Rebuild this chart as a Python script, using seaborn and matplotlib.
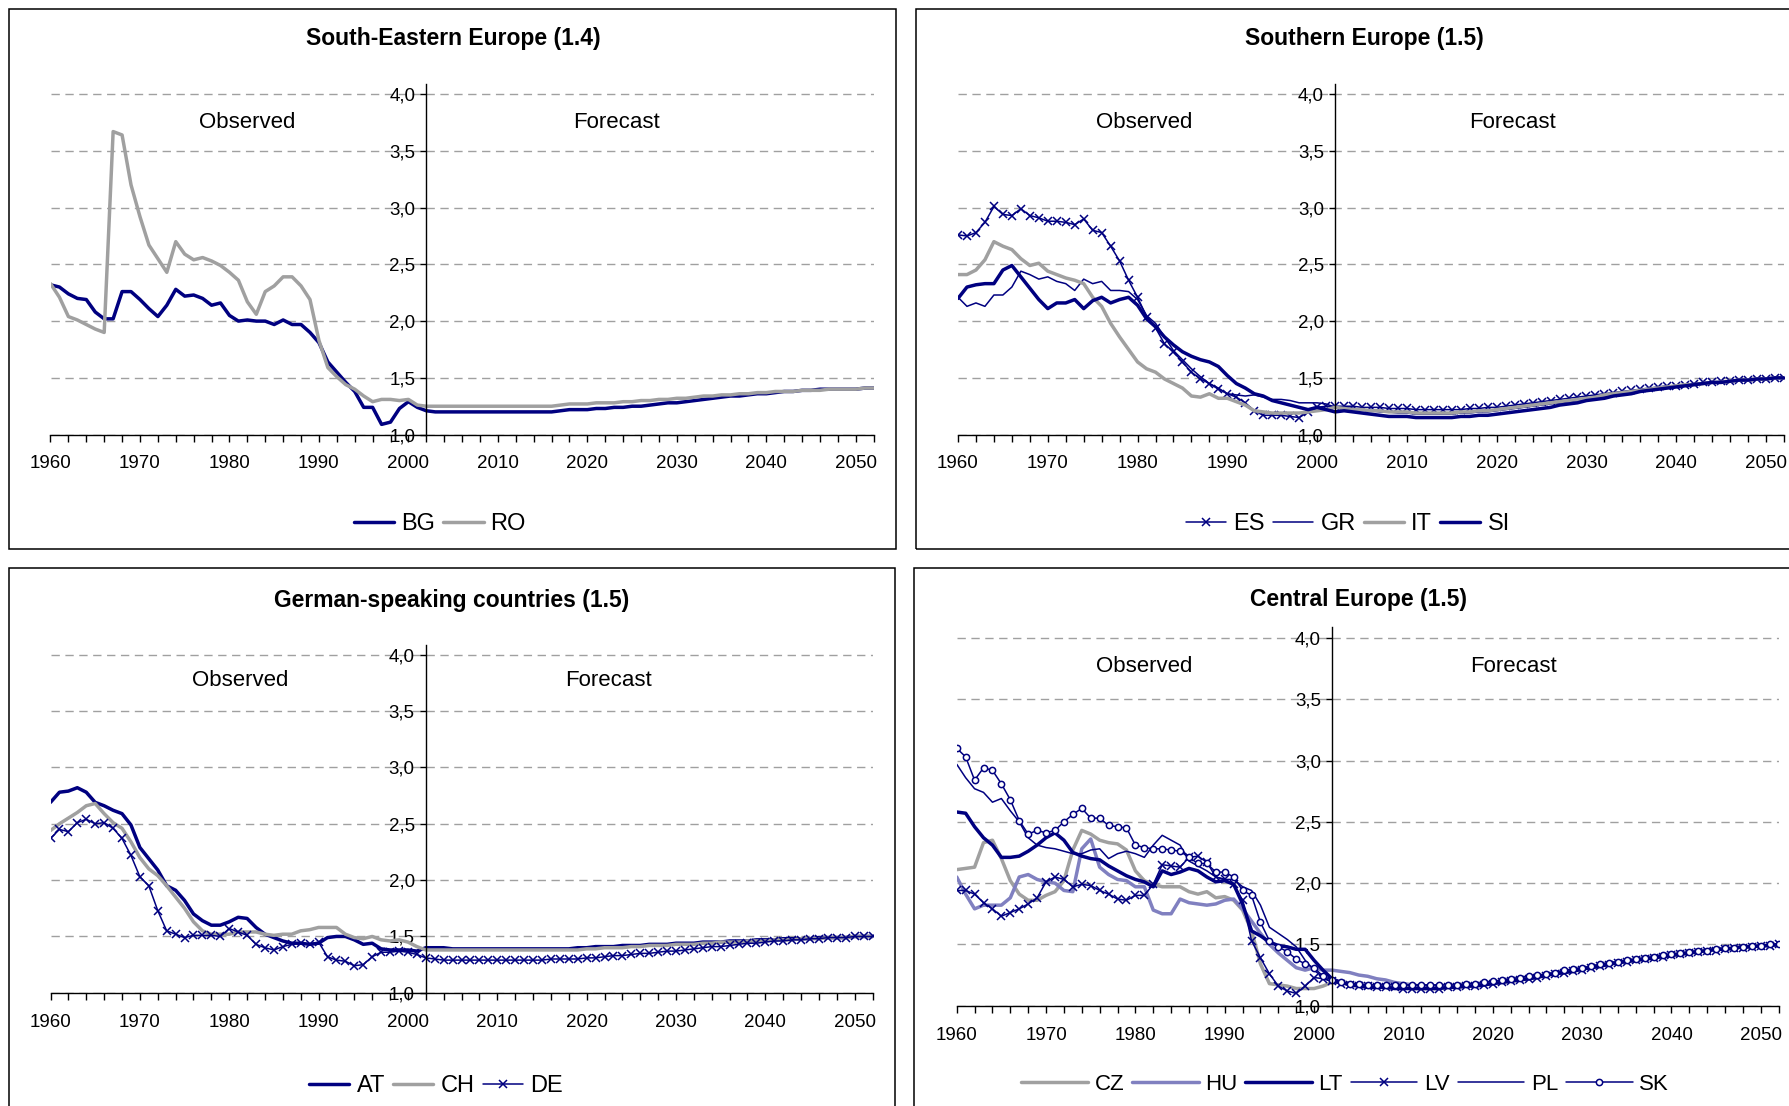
import matplotlib.pyplot as plt
import matplotlib.patches as mpatches
from matplotlib.ticker import MultipleLocator, FuncFormatter
import seaborn as sns

W, H = 1789, 1106

YEARS = list(range(1960, 2053))
OBS_END = 2002

# ---- South-Eastern Europe (1960-2002 observed, 2003-2052 forecast)
BG_OBS = [2.32, 2.30, 2.24, 2.20, 2.19, 2.08, 2.02, 2.02, 2.26, 2.26,
          2.19, 2.11, 2.04, 2.14, 2.28, 2.22, 2.23, 2.20, 2.14, 2.16,
          2.05, 2.00, 2.01, 2.00, 2.00, 1.97, 2.01, 1.97, 1.97, 1.90,
          1.81, 1.64, 1.55, 1.46, 1.38, 1.24, 1.24, 1.09, 1.11, 1.23,
          1.29, 1.24, 1.21]
BG_FC = [1.20, 1.20, 1.20, 1.20, 1.20, 1.20, 1.20, 1.20, 1.20, 1.20, 1.20, 1.20, 1.20, 1.20,
         1.21, 1.22, 1.22, 1.22, 1.23, 1.23, 1.24, 1.24, 1.25, 1.25,
         1.26, 1.27, 1.28, 1.28, 1.29, 1.30, 1.31, 1.32, 1.33, 1.34,
         1.34, 1.35, 1.36, 1.36, 1.37, 1.38, 1.38, 1.39, 1.39, 1.40,
         1.40, 1.40, 1.40, 1.40, 1.41, 1.41]
RO_OBS = [2.33, 2.21, 2.04, 2.01, 1.97, 1.93, 1.90, 3.67, 3.64, 3.20,
          2.92, 2.67, 2.55, 2.43, 2.70, 2.59, 2.54, 2.56, 2.53, 2.49,
          2.43, 2.36, 2.17, 2.06, 2.26, 2.31, 2.39, 2.39, 2.31, 2.19,
          1.83, 1.59, 1.51, 1.44, 1.40, 1.34, 1.29, 1.31, 1.31, 1.30,
          1.31, 1.26, 1.25]
RO_FC = [1.25, 1.25, 1.25, 1.25, 1.25, 1.25, 1.25, 1.25, 1.25, 1.25, 1.25, 1.25, 1.25, 1.25,
         1.26, 1.27, 1.27, 1.27, 1.28, 1.28, 1.28, 1.29, 1.29, 1.30,
         1.30, 1.31, 1.31, 1.32, 1.32, 1.33, 1.34, 1.34, 1.35, 1.35,
         1.36, 1.36, 1.37, 1.37, 1.38, 1.38, 1.38, 1.39, 1.39, 1.39,
         1.40, 1.40, 1.40, 1.40, 1.41, 1.41]

# ---- Southern Europe
ES_OBS = [2.76, 2.75, 2.78, 2.87, 3.01, 2.94, 2.93, 2.99, 2.93, 2.91,
          2.88, 2.88, 2.87, 2.85, 2.90, 2.80, 2.78, 2.66, 2.53, 2.36,
          2.21, 2.04, 1.94, 1.80, 1.73, 1.64, 1.55, 1.49, 1.45, 1.40,
          1.36, 1.33, 1.28, 1.21, 1.17, 1.17, 1.17, 1.16, 1.15, 1.20,
          1.24, 1.25, 1.25]
ES_FC = [1.25, 1.25, 1.24, 1.24, 1.24, 1.23, 1.23, 1.23, 1.22, 1.22,
         1.22, 1.22, 1.22, 1.22, 1.23, 1.23, 1.24, 1.24, 1.25, 1.26,
         1.27, 1.28, 1.29, 1.30, 1.31, 1.32, 1.33, 1.34, 1.35, 1.36,
         1.37, 1.38, 1.39, 1.40, 1.41, 1.42, 1.43, 1.43, 1.44, 1.45,
         1.46, 1.46, 1.47, 1.47, 1.48, 1.48, 1.49, 1.49, 1.50, 1.50]
GR_OBS = [2.21, 2.13, 2.16, 2.13, 2.23, 2.23, 2.30, 2.44, 2.41, 2.37,
          2.39, 2.35, 2.33, 2.27, 2.37, 2.33, 2.35, 2.27, 2.27, 2.26,
          2.19, 2.05, 1.98, 1.86, 1.74, 1.66, 1.58, 1.51, 1.45, 1.41,
          1.36, 1.35, 1.34, 1.35, 1.33, 1.31, 1.31, 1.30, 1.28, 1.28,
          1.28, 1.27, 1.24]
GR_FC = [1.24, 1.23, 1.22, 1.21, 1.20, 1.20, 1.19, 1.19, 1.18, 1.18,
         1.18, 1.18, 1.18, 1.19, 1.19, 1.20, 1.20, 1.21, 1.22, 1.23,
         1.24, 1.25, 1.26, 1.27, 1.28, 1.29, 1.30, 1.31, 1.33, 1.34,
         1.35, 1.36, 1.37, 1.39, 1.40, 1.41, 1.42, 1.43, 1.43, 1.44,
         1.45, 1.46, 1.46, 1.47, 1.48, 1.48, 1.49, 1.49, 1.50, 1.50]
IT_OBS = [2.41, 2.41, 2.45, 2.54, 2.70, 2.66, 2.63, 2.55, 2.49, 2.51,
          2.44, 2.41, 2.38, 2.36, 2.33, 2.21, 2.13, 1.98, 1.86, 1.75,
          1.64, 1.58, 1.55, 1.49, 1.45, 1.41, 1.34, 1.33, 1.36, 1.32,
          1.32, 1.29, 1.26, 1.21, 1.20, 1.19, 1.19, 1.19, 1.19, 1.20,
          1.21, 1.22, 1.24]
IT_FC = [1.23, 1.22, 1.22, 1.21, 1.21, 1.20, 1.20, 1.20, 1.19, 1.19,
         1.19, 1.19, 1.19, 1.20, 1.20, 1.21, 1.21, 1.22, 1.23, 1.24,
         1.25, 1.26, 1.27, 1.28, 1.29, 1.30, 1.31, 1.32, 1.33, 1.35,
         1.36, 1.37, 1.38, 1.39, 1.40, 1.41, 1.42, 1.43, 1.44, 1.44,
         1.45, 1.46, 1.46, 1.47, 1.48, 1.48, 1.49, 1.49, 1.50, 1.50]
SI_OBS = [2.20, 2.30, 2.32, 2.33, 2.33, 2.45, 2.49, 2.39, 2.29, 2.19,
          2.11, 2.16, 2.16, 2.19, 2.11, 2.18, 2.21, 2.16, 2.19, 2.21,
          2.14, 2.02, 1.95, 1.86, 1.79, 1.73, 1.69, 1.66, 1.64, 1.60,
          1.52, 1.45, 1.41, 1.36, 1.34, 1.30, 1.28, 1.26, 1.24, 1.22,
          1.24, 1.22, 1.20]
SI_FC = [1.21, 1.20, 1.19, 1.18, 1.17, 1.16, 1.16, 1.16, 1.15, 1.15,
         1.15, 1.15, 1.15, 1.16, 1.16, 1.17, 1.17, 1.18, 1.19, 1.20,
         1.21, 1.22, 1.23, 1.24, 1.26, 1.27, 1.28, 1.30, 1.31, 1.32,
         1.34, 1.35, 1.36, 1.38, 1.39, 1.40, 1.41, 1.42, 1.43, 1.44,
         1.45, 1.46, 1.46, 1.47, 1.48, 1.48, 1.49, 1.49, 1.50, 1.50]

# ---- German-speaking countries
AT_OBS = [2.69, 2.78, 2.79, 2.82, 2.78, 2.69, 2.66, 2.62, 2.59, 2.49,
          2.29, 2.19, 2.09, 1.95, 1.91, 1.82, 1.70, 1.64, 1.60, 1.60,
          1.63, 1.67, 1.66, 1.58, 1.52, 1.49, 1.46, 1.44, 1.44, 1.43,
          1.44, 1.49, 1.50, 1.50, 1.47, 1.43, 1.44, 1.39, 1.38, 1.38,
          1.38, 1.37, 1.40]
AT_FC = [1.40, 1.40, 1.39, 1.39, 1.39, 1.39, 1.39, 1.39, 1.39, 1.39,
         1.39, 1.39, 1.39, 1.39, 1.39, 1.39, 1.40, 1.40, 1.41, 1.41,
         1.41, 1.42, 1.42, 1.42, 1.43, 1.43, 1.43, 1.44, 1.44, 1.44,
         1.45, 1.45, 1.45, 1.46, 1.46, 1.46, 1.47, 1.47, 1.47, 1.48,
         1.48, 1.48, 1.48, 1.49, 1.49, 1.49, 1.49, 1.50, 1.50, 1.50]
CH_OBS = [2.44, 2.50, 2.55, 2.60, 2.66, 2.68, 2.59, 2.51, 2.46, 2.34,
          2.20, 2.10, 2.04, 1.95, 1.85, 1.75, 1.63, 1.55, 1.52, 1.52,
          1.52, 1.54, 1.54, 1.54, 1.52, 1.51, 1.52, 1.52, 1.55, 1.56,
          1.58, 1.58, 1.58, 1.52, 1.49, 1.48, 1.50, 1.47, 1.46, 1.47,
          1.45, 1.41, 1.38]
CH_FC = [1.38, 1.38, 1.38, 1.38, 1.38, 1.38, 1.38, 1.38, 1.38, 1.38,
         1.38, 1.38, 1.38, 1.38, 1.38, 1.38, 1.38, 1.39, 1.39, 1.40,
         1.40, 1.40, 1.41, 1.41, 1.42, 1.42, 1.42, 1.43, 1.43, 1.43,
         1.44, 1.44, 1.45, 1.45, 1.45, 1.46, 1.46, 1.46, 1.47, 1.47,
         1.47, 1.48, 1.48, 1.48, 1.49, 1.49, 1.49, 1.50, 1.50, 1.50]
DE_OBS = [2.37, 2.45, 2.43, 2.51, 2.54, 2.50, 2.51, 2.46, 2.37, 2.22,
          2.03, 1.95, 1.73, 1.55, 1.52, 1.49, 1.51, 1.51, 1.51, 1.50,
          1.57, 1.54, 1.51, 1.43, 1.40, 1.38, 1.41, 1.43, 1.44, 1.43,
          1.45, 1.32, 1.29, 1.28, 1.24, 1.25, 1.32, 1.36, 1.36, 1.37,
          1.36, 1.34, 1.31]
DE_FC = [1.30, 1.29, 1.29, 1.29, 1.29, 1.29, 1.29, 1.29, 1.29, 1.29,
         1.29, 1.29, 1.29, 1.30, 1.30, 1.30, 1.30, 1.31, 1.31, 1.32,
         1.33, 1.33, 1.34, 1.35, 1.35, 1.36, 1.37, 1.37, 1.38, 1.39,
         1.40, 1.41, 1.41, 1.42, 1.43, 1.44, 1.44, 1.45, 1.46, 1.46,
         1.47, 1.47, 1.48, 1.48, 1.49, 1.49, 1.49, 1.50, 1.50, 1.50]

# ---- Central Europe
CZ_OBS = [2.11, 2.12, 2.13, 2.33, 2.35, 2.20, 2.02, 1.91, 1.86, 1.86,
          1.90, 1.93, 2.02, 2.27, 2.43, 2.40, 2.35, 2.33, 2.32, 2.27,
          2.10, 2.02, 1.99, 1.97, 1.97, 1.97, 1.93, 1.91, 1.93, 1.88,
          1.89, 1.86, 1.78, 1.61, 1.34, 1.18, 1.17, 1.16, 1.14, 1.14,
          1.14, 1.16, 1.19]
CZ_FC = [1.19, 1.18, 1.17, 1.16, 1.16, 1.15, 1.15, 1.15, 1.14, 1.14,
         1.14, 1.14, 1.15, 1.15, 1.16, 1.16, 1.17, 1.18, 1.19, 1.20,
         1.21, 1.22, 1.24, 1.25, 1.26, 1.27, 1.29, 1.30, 1.31, 1.33,
         1.34, 1.35, 1.36, 1.37, 1.38, 1.39, 1.40, 1.41, 1.42, 1.43,
         1.44, 1.45, 1.46, 1.46, 1.47, 1.48, 1.48, 1.49, 1.49, 1.50]
HU_OBS = [2.05, 1.91, 1.79, 1.82, 1.82, 1.82, 1.88, 2.05, 2.07, 2.03,
          2.01, 2.00, 1.94, 1.93, 2.28, 2.36, 2.13, 2.07, 2.03, 2.02,
          1.97, 1.97, 1.78, 1.75, 1.75, 1.87, 1.84, 1.83, 1.82, 1.83,
          1.86, 1.87, 1.79, 1.69, 1.59, 1.50, 1.43, 1.37, 1.31, 1.29,
          1.31, 1.29, 1.29]
HU_FC = [1.28, 1.27, 1.25, 1.24, 1.22, 1.21, 1.19, 1.18, 1.17, 1.16,
         1.16, 1.16, 1.16, 1.16, 1.17, 1.17, 1.18, 1.19, 1.20, 1.21,
         1.22, 1.23, 1.24, 1.25, 1.27, 1.28, 1.29, 1.30, 1.32, 1.33,
         1.34, 1.35, 1.37, 1.38, 1.39, 1.40, 1.41, 1.42, 1.43, 1.44,
         1.44, 1.45, 1.46, 1.47, 1.47, 1.48, 1.48, 1.49, 1.49, 1.50]
LT_OBS = [2.58, 2.57, 2.46, 2.37, 2.31, 2.21, 2.21, 2.22, 2.26, 2.31,
          2.37, 2.41, 2.35, 2.25, 2.22, 2.20, 2.19, 2.14, 2.10, 2.06,
          2.03, 2.01, 1.97, 2.10, 2.07, 2.09, 2.12, 2.10, 2.05, 2.01,
          2.02, 1.99, 1.83, 1.61, 1.57, 1.52, 1.49, 1.48, 1.46, 1.46,
          1.37, 1.29, 1.22]
LT_FC = [1.19, 1.17, 1.16, 1.15, 1.15, 1.15, 1.14, 1.14, 1.14, 1.14,
         1.14, 1.14, 1.15, 1.15, 1.16, 1.16, 1.17, 1.18, 1.19, 1.20,
         1.21, 1.22, 1.23, 1.25, 1.26, 1.27, 1.28, 1.30, 1.31, 1.32,
         1.34, 1.35, 1.36, 1.37, 1.38, 1.39, 1.40, 1.41, 1.42, 1.43,
         1.44, 1.45, 1.46, 1.46, 1.47, 1.48, 1.48, 1.49, 1.49, 1.50]
LV_OBS = [1.94, 1.94, 1.91, 1.84, 1.79, 1.73, 1.76, 1.79, 1.83, 1.88,
          2.01, 2.05, 2.03, 1.97, 1.99, 1.98, 1.94, 1.91, 1.87, 1.86,
          1.90, 1.90, 1.99, 2.15, 2.14, 2.13, 2.21, 2.22, 2.17, 2.05,
          2.03, 1.99, 1.86, 1.53, 1.39, 1.26, 1.16, 1.12, 1.10, 1.16,
          1.23, 1.22, 1.20]
LV_FC = [1.18, 1.17, 1.16, 1.16, 1.15, 1.15, 1.15, 1.14, 1.14, 1.14,
         1.14, 1.14, 1.15, 1.15, 1.16, 1.16, 1.17, 1.18, 1.19, 1.20,
         1.21, 1.22, 1.23, 1.24, 1.26, 1.27, 1.28, 1.29, 1.31, 1.32,
         1.33, 1.35, 1.36, 1.37, 1.38, 1.39, 1.40, 1.41, 1.42, 1.43,
         1.44, 1.45, 1.45, 1.46, 1.47, 1.47, 1.48, 1.49, 1.49, 1.50]
PL_OBS = [2.97, 2.86, 2.77, 2.74, 2.66, 2.69, 2.59, 2.50, 2.37, 2.31,
          2.29, 2.28, 2.26, 2.24, 2.24, 2.27, 2.28, 2.20, 2.24, 2.26,
          2.24, 2.21, 2.31, 2.39, 2.35, 2.31, 2.18, 2.14, 2.10, 2.05,
          2.03, 2.03, 1.97, 1.94, 1.82, 1.64, 1.59, 1.54, 1.48, 1.37,
          1.29, 1.23, 1.19]
PL_FC = [1.18, 1.17, 1.16, 1.16, 1.15, 1.15, 1.15, 1.15, 1.14, 1.14,
         1.14, 1.14, 1.15, 1.15, 1.16, 1.16, 1.17, 1.18, 1.19, 1.20,
         1.21, 1.22, 1.23, 1.25, 1.26, 1.27, 1.28, 1.30, 1.31, 1.32,
         1.34, 1.35, 1.36, 1.37, 1.38, 1.39, 1.40, 1.41, 1.42, 1.43,
         1.44, 1.45, 1.46, 1.46, 1.47, 1.48, 1.48, 1.49, 1.49, 1.50]
SK_OBS = [3.10, 3.03, 2.84, 2.94, 2.92, 2.81, 2.68, 2.51, 2.40, 2.43,
          2.41, 2.43, 2.50, 2.56, 2.61, 2.53, 2.53, 2.47, 2.46, 2.45,
          2.31, 2.29, 2.28, 2.28, 2.27, 2.26, 2.21, 2.16, 2.16, 2.09,
          2.09, 2.05, 1.94, 1.90, 1.68, 1.53, 1.48, 1.44, 1.38, 1.34,
          1.31, 1.24, 1.21]
SK_FC = [1.19, 1.18, 1.18, 1.17, 1.17, 1.17, 1.17, 1.17, 1.17, 1.17,
         1.17, 1.17, 1.17, 1.17, 1.18, 1.18, 1.19, 1.20, 1.21, 1.22,
         1.23, 1.24, 1.25, 1.26, 1.27, 1.29, 1.30, 1.31, 1.32, 1.34,
         1.35, 1.36, 1.37, 1.38, 1.39, 1.40, 1.41, 1.42, 1.43, 1.44,
         1.45, 1.45, 1.46, 1.47, 1.47, 1.48, 1.49, 1.49, 1.50, 1.50]

NAVY = "#000080"
GREY = "#A0A0A0"
LILAC = "#8080C0"
THIN, THICK = 1.1, 2.5

# name, observed, forecast, colour, width, marker
PANELS = [
    {
        "title": "South-Eastern Europe (1.4)",
        "series": [("BG", BG_OBS, BG_FC, NAVY, THICK, None),
                   ("RO", RO_OBS, RO_FC, GREY, THICK, None)],
        "box": (50.5, 873.7, 83.9, 434.6),
        "title_xy": (453, 39), "legend_xy": (440, 524.5),
        "legend": (17, 1.7),
        "obs_x": 1982.0, "fc_x": 2023.2, "lab_y": 3.75,
    },
    {
        "title": "Southern Europe (1.5)",
        "series": [("ES", ES_OBS, ES_FC, NAVY, THIN, "x"),
                   ("GR", GR_OBS, GR_FC, NAVY, THIN, None),
                   ("IT", IT_OBS, IT_FC, GREY, THICK, None),
                   ("SI", SI_OBS, SI_FC, NAVY, THICK, None)],
        "box": (958, 1784, 83.9, 434.6),
        "title_xy": (1364, 39), "legend_xy": (1348, 524.5),
        "legend": (17, 1.7),
        "obs_x": 1980.7, "fc_x": 2021.8, "lab_y": 3.75,
    },
    {
        "title": "German-speaking countries (1.5)",
        "series": [("AT", AT_OBS, AT_FC, NAVY, THICK, None),
                   ("CH", CH_OBS, CH_FC, GREY, THICK, None),
                   ("DE", DE_OBS, DE_FC, NAVY, THIN, "x")],
        "box": (50.5, 872.6, 644.6, 992.8),
        "title_xy": (452, 600.5), "legend_xy": (436, 1086),
        "legend": (17, 1.7),
        "obs_x": 1981.2, "fc_x": 2022.5, "lab_y": 3.77,
    },
    {
        "title": "Central Europe (1.5)",
        "series": [("CZ", CZ_OBS, CZ_FC, GREY, THICK, None),
                   ("HU", HU_OBS, HU_FC, LILAC, THICK, None),
                   ("LT", LT_OBS, LT_FC, NAVY, THICK, None),
                   ("LV", LV_OBS, LV_FC, NAVY, THIN, "x"),
                   ("PL", PL_OBS, PL_FC, NAVY, THIN, None),
                   ("SK", SK_OBS, SK_FC, NAVY, THIN, "o")],
        "box": (956.7, 1778.7, 626.9, 1005.7),
        "title_xy": (1359, 599.5), "legend_xy": (1345, 1084),
        "legend": (16, 3.0),
        "obs_x": 1981.0, "fc_x": 2022.3, "lab_y": 3.77,
    },
]

# outer frames of the four charts, in pixels (left, top, right, bottom)
FRAMES = [(9, 9, 896, 549), (916, 9, 1800, 549),
          (9, 568, 895, 1115), (914, 568, 1800, 1115)]

sns.set_theme(style="white")
plt.rcParams["font.family"] = ["Liberation Sans", "DejaVu Sans"]
plt.rcParams["text.color"] = "black"
plt.rcParams["xtick.color"] = "black"
plt.rcParams["ytick.color"] = "black"

fig = plt.figure(figsize=(W / 100, H / 100), dpi=100)

for left, top, right, bottom in FRAMES:
    fig.add_artist(mpatches.Rectangle(
        (left / W, 1 - bottom / H), (right - left) / W, (bottom - top) / H,
        transform=fig.transFigure, fill=False, edgecolor="black", linewidth=1.1))

for p in PANELS:
    x0, x1, ytop, ybot = p["box"]
    ax = fig.add_axes([x0 / W, 1 - ybot / H, (x1 - x0) / W, (ybot - ytop) / H])

    for name, obs, fc, color, lw, marker in p["series"]:
        kw = {}
        if marker == "x":
            # seaborn paints marker edges white by default, so set them explicitly
            kw = dict(marker="x", markersize=5.5, markeredgewidth=1.1,
                      markeredgecolor=color)
        elif marker == "o":
            kw = dict(marker="o", markersize=4.5, markeredgewidth=1.1,
                      markerfacecolor="white", markeredgecolor=color)
        sns.lineplot(x=YEARS, y=obs + fc, ax=ax, color=color, linewidth=lw,
                     label=name, **kw)

    ax.set_xlim(1960, 2052)
    ax.set_ylim(1.0, 4.09)
    ax.xaxis.set_major_locator(MultipleLocator(10))
    ax.xaxis.set_minor_locator(MultipleLocator(2))
    ax.yaxis.set_major_locator(MultipleLocator(0.5))
    ax.yaxis.set_major_formatter(FuncFormatter(lambda v, _: f"{v:.1f}".replace(".", ",")))
    ax.set_xlabel("")
    ax.set_ylabel("")

    for side in ("top", "right"):
        ax.spines[side].set_visible(False)
    ax.spines["left"].set_position(("data", OBS_END))
    for side in ("left", "bottom"):
        ax.spines[side].set_color("black")
        ax.spines[side].set_linewidth(1.0)

    ax.tick_params(axis="x", which="both", bottom=True, direction="out",
                   length=5, width=1, color="black", labelsize=13.5, pad=10)
    ax.tick_params(axis="y", left=True, direction="out", length=4, width=1,
                   color="black", labelsize=13.5, pad=4)
    ax.yaxis.grid(True, color="#A0A0A0", linestyle=(0, (6, 4)), linewidth=1)
    ax.set_axisbelow(True)

    ax.text(p["obs_x"], p["lab_y"], "Observed", fontsize=16, ha="center", va="center")
    ax.text(p["fc_x"], p["lab_y"], "Forecast", fontsize=16, ha="center", va="center")

    tx, ty = p["title_xy"]
    fig.text(tx / W, 1 - ty / H, p["title"], fontsize=16.5, fontweight="bold",
             ha="center", va="center")

    lx, ly = p["legend_xy"]
    lsize, hlen = p["legend"]
    handles, labels = ax.get_legend_handles_labels()
    ax.legend(handles, labels, loc="center", bbox_to_anchor=(lx / W, 1 - ly / H),
              bbox_transform=fig.transFigure, ncol=len(labels), frameon=False,
              fontsize=lsize, handlelength=hlen, handletextpad=0.3,
              columnspacing=0.35, borderpad=0)

fig.savefig("out.png", dpi=100)
